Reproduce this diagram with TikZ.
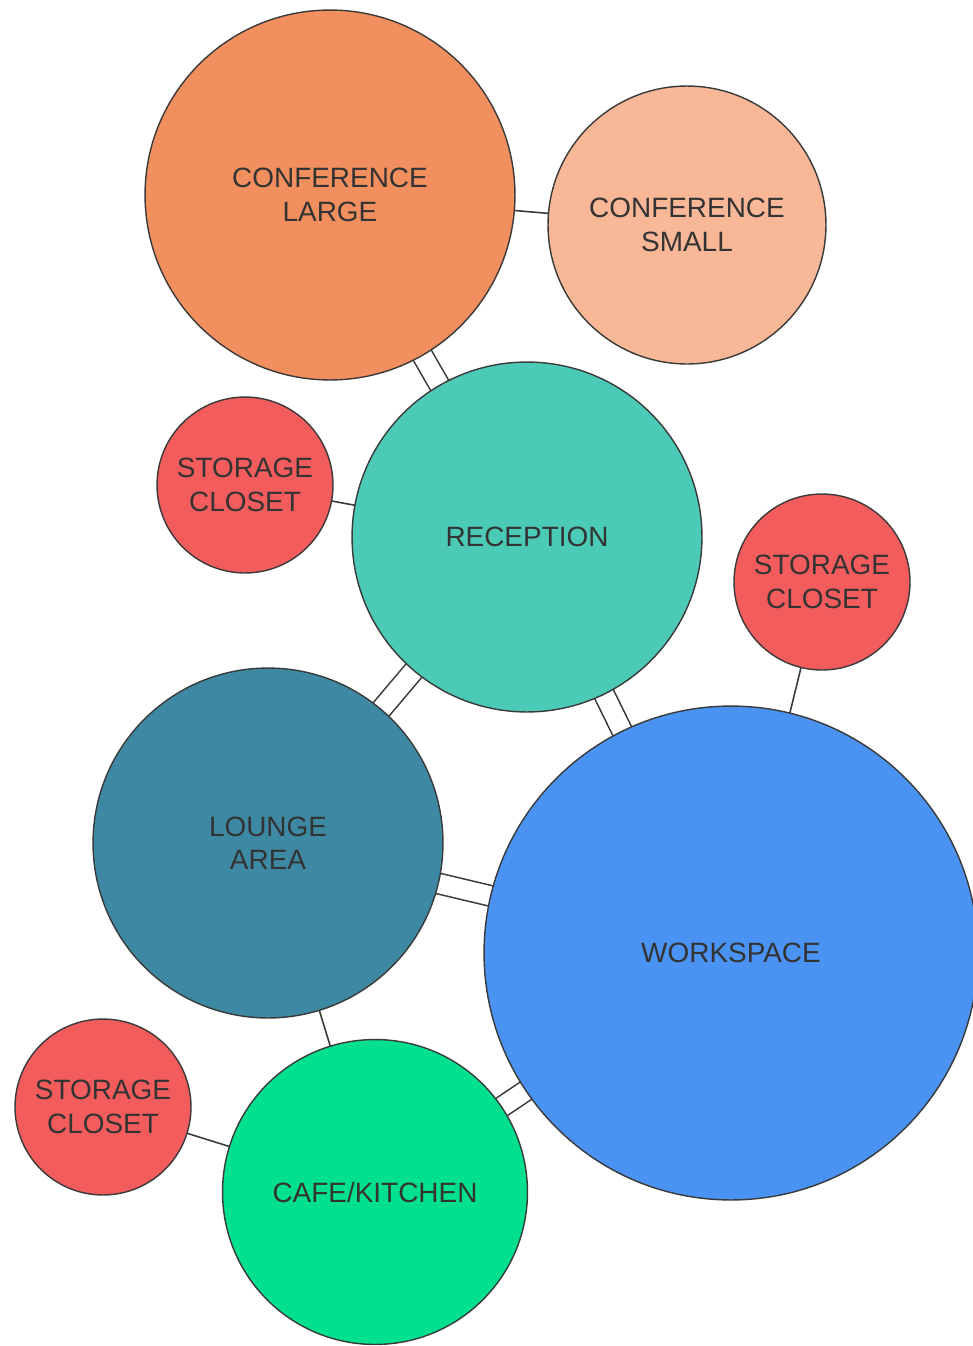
\documentclass[tikz,border=0pt]{standalone}
\usepackage{fontspec}
\setmainfont{Liberation Sans}
\usetikzlibrary{backgrounds}
\definecolor{confL}{HTML}{F28F5E}
\definecolor{confS}{HTML}{F8B797}
\definecolor{store}{HTML}{F25C5C}
\definecolor{recep}{HTML}{4BCAB6}
\definecolor{loung}{HTML}{3D89A3}
\definecolor{works}{HTML}{4A93F2}
\definecolor{cafe}{HTML}{00E08F}
\definecolor{edge}{HTML}{3A3A3A}
\begin{document}
\begin{tikzpicture}[x=0.02cm,y=-0.02cm]
        \tikzstyle{room}=[circle, draw=edge, line width=0.8pt, inner sep=0pt, outer sep=0pt,
            align=center, text=black!80, font=\fontsize{15.9}{19}\selectfont]
        \tikzstyle{link}=[draw=edge, line width=0.9pt]
        \tikzstyle{wide}=[link, double=white, double distance=0.38cm]
        \useasboundingbox (0,0) rectangle (973,1346);
        % rooms
        \node[room, fill=confL, minimum size=7.4cm] (conflarge) at (330,195) {CONFERENCE\\LARGE};
        \node[room, fill=confS, minimum size=5.56cm] (confsmall) at (687,225) {CONFERENCE\\SMALL};
        \node[room, fill=recep, minimum size=7.0cm] (reception) at (527,537) {RECEPTION};
        \node[room, fill=store, minimum size=3.52cm] (closeta) at (245,485) {STORAGE\\CLOSET};
        \node[room, fill=store, minimum size=3.52cm] (closetb) at (822,582) {STORAGE\\CLOSET};
        \node[room, fill=loung, minimum size=7.0cm] (lounge) at (268,843) {LOUNGE\\AREA};
        \node[room, fill=works, minimum size=9.88cm] (workspace) at (731,953) {WORKSPACE};
        \node[room, fill=store, minimum size=3.52cm] (closetc) at (103,1107) {STORAGE\\CLOSET};
        \node[room, fill=cafe, minimum size=6.1cm] (cafe) at (375,1192) {CAFE/KITCHEN};
        % connections
        \begin{pgfonlayer}{background}
        \draw[link] (conflarge.center) -- (confsmall.center);
        \draw[link] (closeta.center) -- (reception.center);
        \draw[link] (closetb.center) -- (workspace.center);
        \draw[link] (lounge.center) -- (cafe.center);
        \draw[link] (closetc.center) -- (cafe.center);
        \draw[wide] (conflarge.center) -- (reception.center);
        \draw[wide] (reception.center) -- (lounge.center);
        \draw[wide] (reception.center) -- (workspace.center);
        \draw[wide] (lounge.center) -- (workspace.center);
        \draw[wide] (cafe.center) -- (workspace.center);
        \end{pgfonlayer}
\end{tikzpicture}
\end{document}
